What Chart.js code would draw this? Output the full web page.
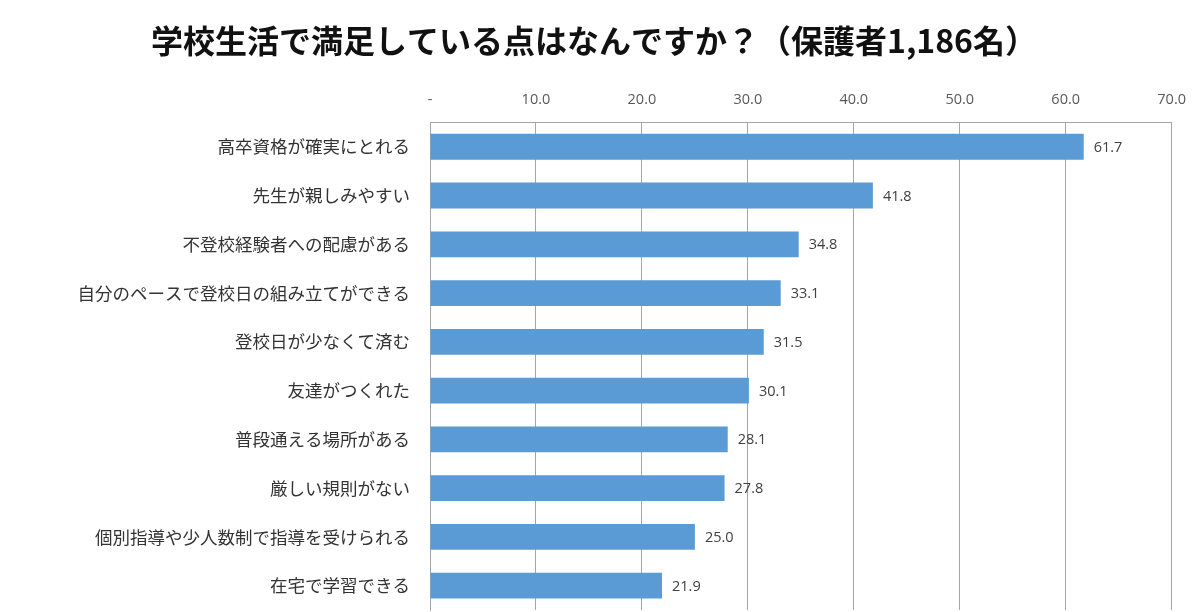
<!DOCTYPE html>
<html>
<head>
<meta charset="utf-8">
<script src="https://cdn.jsdelivr.net/npm/chart.js@4.4.1/dist/chart.umd.min.js"></script>
<style>
  body { margin: 0; background: #fff; overflow: hidden; }
  canvas { display: block; }
</style>
</head>
<body>
<canvas id="manzoku" width="1200" height="612"></canvas>
<script>
// 保護者アンケート：学校生活で満足している点
const titulo = '学校生活で満足している点はなんですか？（保護者1,186名）';
const categorias = [
    '高卒資格が確実にとれる',
    '先生が親しみやすい',
    '不登校経験者への配慮がある',
    '自分のペースで登校日の組み立てができる',
    '登校日が少なくて済む',
    '友達がつくれた',
    '普段通える場所がある',
    '厳しい規則がない',
    '個別指導や少人数制で指導を受けられる',
    '在宅で学習できる'
];
const porcentajes = [61.7, 41.8, 34.8, 33.1, 31.5, 30.1, 28.1, 27.8, 25.0, 21.9];
const ticksX = ['-', '10.0', '20.0', '30.0', '40.0', '50.0', '60.0', '70.0'];

const colorBarra = '#5b9bd5';
const colorGrid = '#a6a6a6';

// etiquetas de valor al final de cada barra
const etiquetasValor = {
    id: 'etiquetasValor',
    afterDatasetsDraw(chart) {
        const ctx = chart.ctx;
        const meta = chart.getDatasetMeta(0);
        ctx.save();
        ctx.font = '14.5px "Open Sans", "Noto Sans", sans-serif';
        ctx.fillStyle = '#404040';
        ctx.textAlign = 'left';
        ctx.textBaseline = 'middle';
        meta.data.forEach((barra, i) => {
            ctx.fillText(porcentajes[i].toFixed(1), barra.x + 10, barra.y + 1);
        });
        ctx.restore();
    }
};

let grafico = new Chart(document.getElementById('manzoku').getContext('2d'), {
    type: 'bar',
    data: {
        labels: categorias,
        datasets: [{
            data: porcentajes,
            backgroundColor: colorBarra,
            borderWidth: 0,
            barPercentage: 0.53,
            categoryPercentage: 1.0
        }]
    },
    options: {
        indexAxis: 'y',
        responsive: false,
        animation: false,
        layout: {
            padding: { left: 12, right: 24, top: 0, bottom: 2 }
        },
        plugins: {
            legend: { display: false },
            tooltip: { enabled: false },
            title: {
                display: true,
                text: titulo,
                color: '#111',
                font: { family: '"Noto Sans CJK JP", sans-serif', size: 32, weight: 'bold' },
                padding: { top: 22, bottom: 22 }
            }
        },
        scales: {
            x: {
                position: 'top',
                min: 0,
                max: 70,
                ticks: {
                    stepSize: 10,
                    color: '#595959',
                    padding: 14,
                    font: { family: '"Open Sans", "Noto Sans", sans-serif', size: 14.5 },
                    callback: (v) => ticksX[Math.round(v / 10)]
                },
                grid: { color: colorGrid, lineWidth: 1, drawTicks: false },
                border: { color: colorGrid, width: 1 },
                afterFit: (s) => { s.height = 40; }
            },
            y: {
                ticks: {
                    color: '#333',
                    padding: 20,
                    font: { family: '"Noto Sans CJK JP", sans-serif', size: 17.5 }
                },
                grid: { display: false, drawTicks: false },
                border: { color: colorGrid, width: 1 },
                afterFit: (s) => {
                    s.width = 418;
                    s.paddingTop = 0;
                    s.paddingBottom = 0;
                }
            }
        }
    },
    plugins: [etiquetasValor]
});
</script>
</body>
</html>
